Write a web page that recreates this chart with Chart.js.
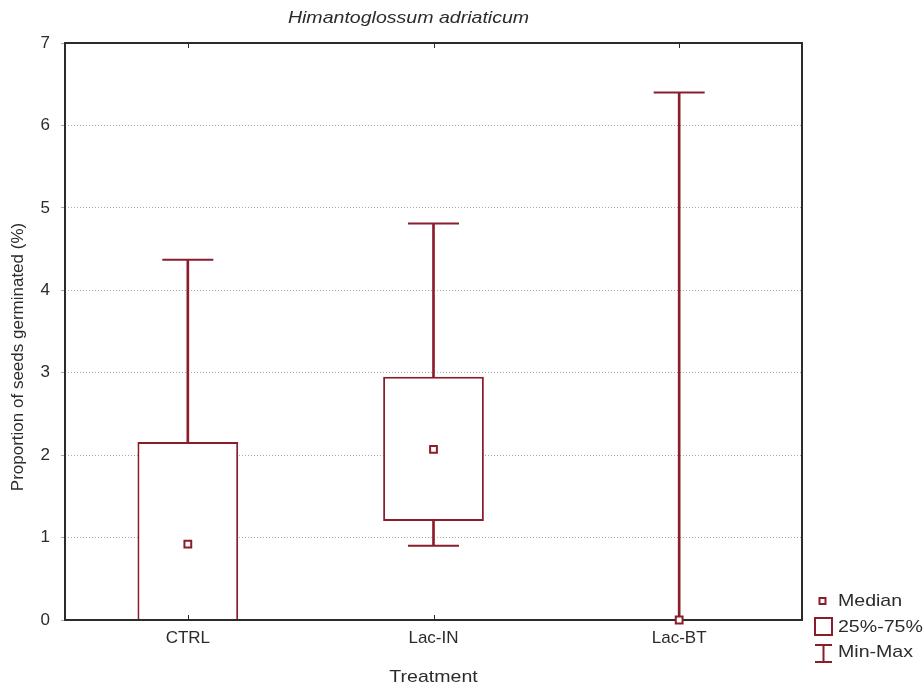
<!DOCTYPE html>
<html>
<head>
<meta charset="utf-8">
<script src="https://cdn.jsdelivr.net/npm/chart.js@4.4.1/dist/chart.umd.min.js"></script>
<style>
  html, body { margin: 0; padding: 0; background: #fff; }
</style>
</head>
<body>
<canvas id="chart" width="924" height="690"></canvas>
<script>
// values (Statistica-style box plot)
const treatments = ['CTRL', 'Lac-IN', 'Lac-BT'];
const minValues = [0, 0.90, 0];
const q1Values = [0, 1.20, 0];
const medianValues = [0.92, 2.07, 0];
const q3Values = [2.16, 2.95, 0];
const maxValues = [4.37, 4.81, 6.40];
const yTicks = [0, 1, 2, 3, 4, 5, 6, 7];

const RED = '#8b1c2c';
const INK = '#2b2b2b';
const FONT = "'Liberation Sans', Arial, sans-serif";
const STRETCH = 1.15; // the source image is a little wider than tall

function drawText(ctx, text, x, y, { font, align = 'center', rotate = 0, stretch = STRETCH } = {}) {
  ctx.save();
  ctx.translate(x, y);
  if (rotate) ctx.rotate(rotate);
  else ctx.scale(stretch, 1);
  ctx.font = font;
  ctx.fillStyle = INK;
  ctx.textAlign = align;
  ctx.textBaseline = 'middle';
  ctx.fillText(text, 0, 0);
  ctx.restore();
}

// frame is drawn just before the medians so it hides box/cap edges lying on 0
const framePlugin = {
  id: 'frame',
  beforeDatasetDraw(chart, args) {
    if (chart.data.datasets[args.index].label !== 'Median') return;
    const { ctx, chartArea: a, scales } = chart;
    ctx.save();
    ctx.strokeStyle = INK;
    ctx.lineWidth = 2;
    ctx.strokeRect(a.left, a.top, a.right - a.left, a.bottom - a.top);
    ctx.lineWidth = 1;
    treatments.forEach((_, i) => {
      const x = Math.round(scales.x.getPixelForValue(i)) + 0.5;
      ctx.beginPath();
      ctx.moveTo(x, a.bottom); ctx.lineTo(x, a.bottom - 5);
      ctx.moveTo(x, a.top); ctx.lineTo(x, a.top + 5);
      ctx.stroke();
    });
    ctx.restore();
  },
};

const labelsPlugin = {
  id: 'labels',
  afterDraw(chart) {
    const { ctx, chartArea: a } = chart;
    const mid = (a.left + a.right) / 2;
    drawText(ctx, 'Himantoglossum adriaticum', mid - 25, 18, { font: `italic 17px ${FONT}` });
    drawText(ctx, 'Treatment', mid, 677, { font: `17px ${FONT}` });
    drawText(ctx, 'Proportion of seeds germinated (%)', 18, 357, { font: `17px ${FONT}`, rotate: -Math.PI / 2 });

    // legend
    const lx = a.right + 20;
    const tx = a.right + 36;
    ctx.save();
    ctx.strokeStyle = RED;
    ctx.lineWidth = 2;
    ctx.strokeRect(lx - 2.5, 598, 6, 6);
    ctx.strokeRect(lx - 7, 618, 17, 17);
    ctx.beginPath();
    ctx.moveTo(lx - 7, 645); ctx.lineTo(lx + 10, 645);
    ctx.moveTo(lx + 1.5, 645); ctx.lineTo(lx + 1.5, 662);
    ctx.moveTo(lx - 7, 662); ctx.lineTo(lx + 10, 662);
    ctx.stroke();
    ctx.restore();
    drawText(ctx, 'Median', tx, 601, { font: `17px ${FONT}`, align: 'left' });
    drawText(ctx, '25%-75%', tx, 627, { font: `17px ${FONT}`, align: 'left' });
    drawText(ctx, 'Min-Max', tx, 652, { font: `17px ${FONT}`, align: 'left' });
  },
};

const whisker = {
  type: 'bar',
  backgroundColor: RED,
  borderWidth: 0,
  barThickness: 2,
  grouped: false,
  order: 4,
};

const cap = {
  type: 'line',
  showLine: false,
  pointStyle: 'line',
  pointRadius: 25.5,
  pointHoverRadius: 25.5,
  pointBorderColor: RED,
  pointBorderWidth: 2,
  clip: false,
  order: 2,
};

new Chart(document.getElementById('chart'), {
  type: 'bar',
  data: {
    labels: treatments,
    datasets: [
      {
        label: '25%-75%',
        data: treatments.map((_, i) => [q1Values[i], q3Values[i]]),
        backgroundColor: '#ffffff',
        borderColor: RED,
        borderWidth: 2,
        // a box starting at 0 sits on the axis, whose line hides its bottom edge
        borderSkipped: (c) => (q1Values[c.dataIndex] === 0 ? 'start' : false),
        barPercentage: 0.41,
        categoryPercentage: 1,
        grouped: false,
        order: 3,
      },
      { ...whisker, label: 'Upper whisker', data: treatments.map((_, i) => [q3Values[i], maxValues[i]]) },
      { ...whisker, label: 'Lower whisker', data: treatments.map((_, i) => [minValues[i], q1Values[i]]) },
      { ...cap, label: 'Max', data: maxValues },
      { ...cap, label: 'Min', data: minValues },
      {
        type: 'line',
        label: 'Median',
        data: medianValues,
        showLine: false,
        pointStyle: 'rect',
        pointRadius: 4.8,
        pointBackgroundColor: '#ffffff',
        pointBorderColor: RED,
        pointBorderWidth: 2,
        clip: false,
        order: 0,
      },
    ],
  },
  options: {
    responsive: false,
    animation: false,
    layout: { padding: { top: 43, right: 122, left: 0, bottom: 0 } },
    plugins: { legend: { display: false }, tooltip: { enabled: false } },
    scales: {
      x: {
        offset: true,
        grid: { display: true, drawOnChartArea: false, drawTicks: false },
        border: { display: false },
        ticks: { color: INK, font: { family: FONT, size: 17 }, padding: 8 },
        afterFit: (scale) => { scale.height = 70; },
      },
      y: {
        min: 0,
        max: 7,
        afterBuildTicks: (scale) => { scale.ticks = yTicks.map((v) => ({ value: v })); },
        ticks: { color: INK, font: { family: FONT, size: 17 }, padding: 11 },
        grid: { color: '#a8a8a8', lineWidth: 1, tickLength: 4 },
        border: { display: false, dash: [1, 2] },
        afterFit: (scale) => { scale.width = 65; },
      },
    },
  },
  plugins: [framePlugin, labelsPlugin],
});
</script>
</body>
</html>
